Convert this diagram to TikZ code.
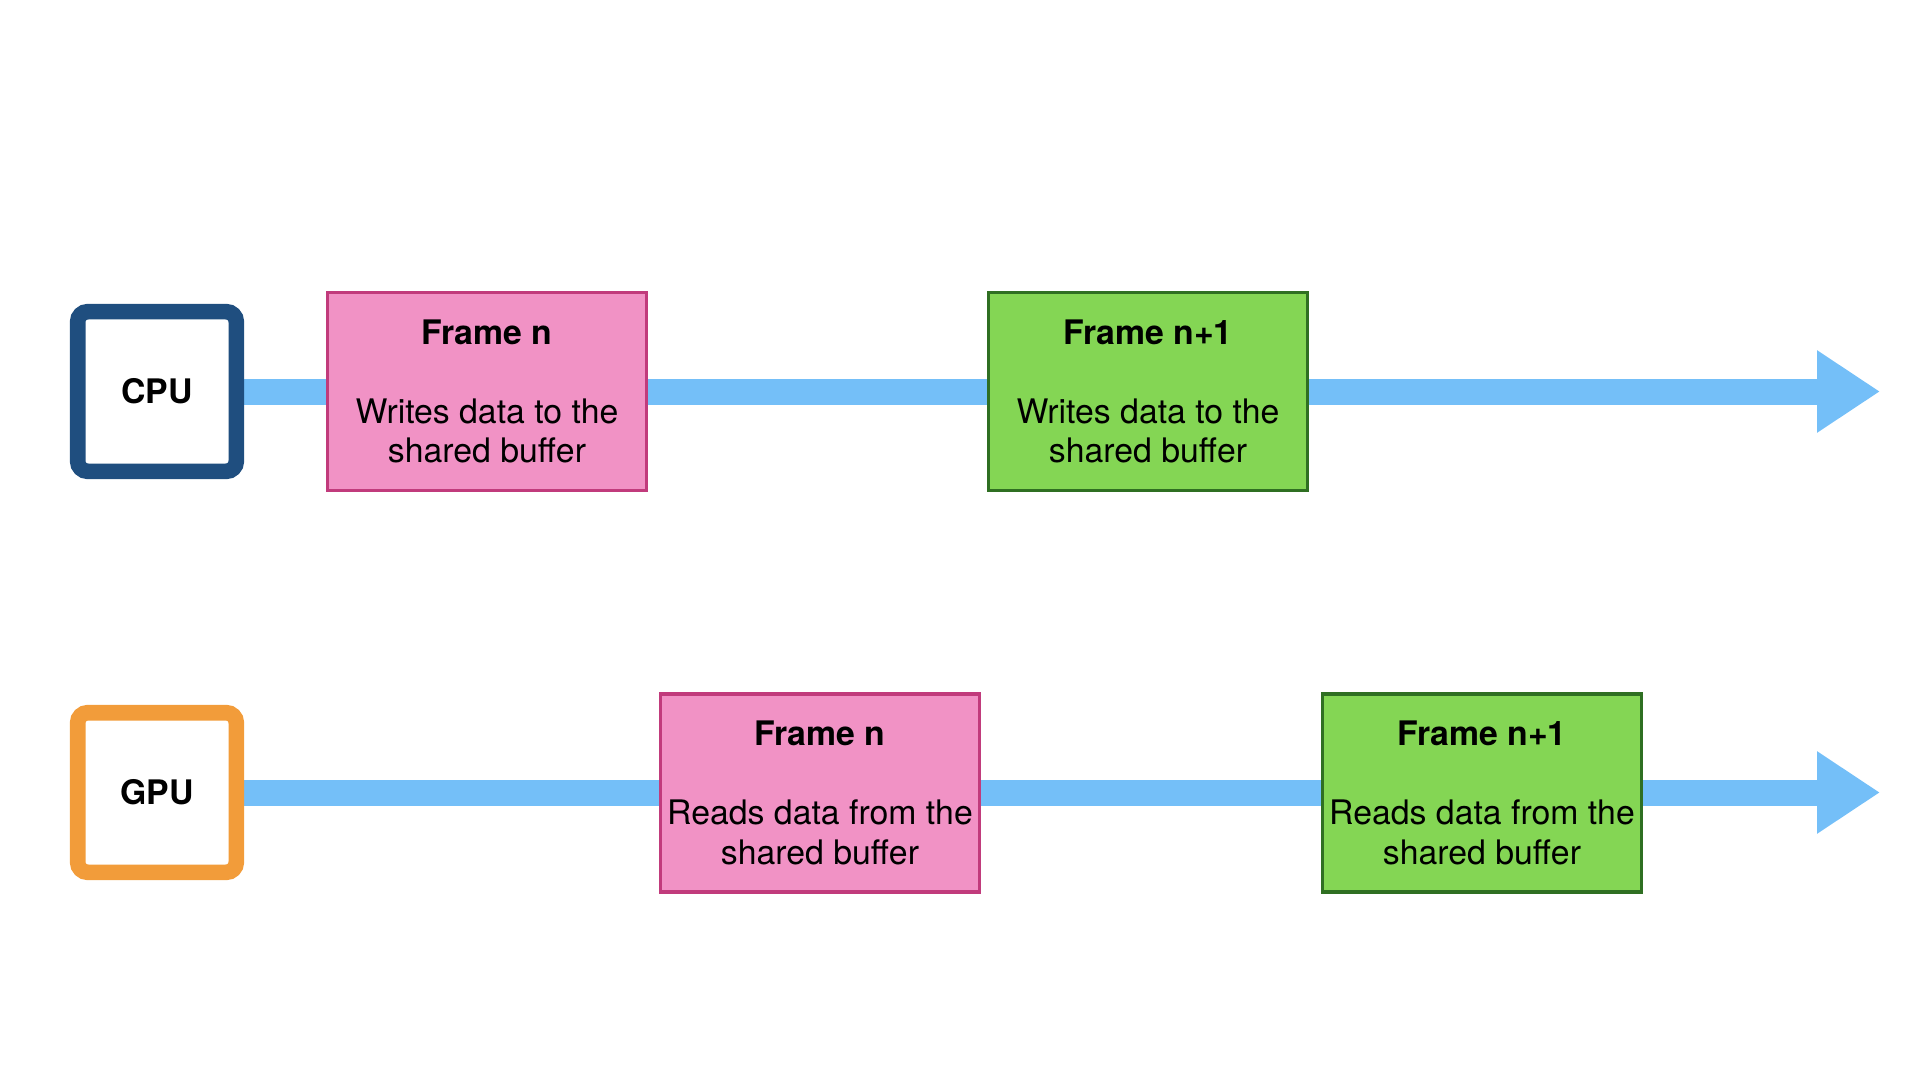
\documentclass[tikz,border=0pt]{standalone}
\usepackage{fontspec}
\setmainfont{TeX Gyre Heros}
\usetikzlibrary{arrows.meta,backgrounds}
\definecolor{cpublue}{HTML}{1F4E7F}
\definecolor{gpuorange}{HTML}{F29C3A}
\definecolor{pinkfill}{HTML}{F192C5}
\definecolor{pinkline}{HTML}{C13B7C}
\definecolor{greenfill}{HTML}{84D654}
\definecolor{greenline}{HTML}{2F6F22}
\definecolor{flowblue}{HTML}{74BFF8}
\begin{document}
\begin{tikzpicture}[x=0.5pt,y=-0.5pt,
  txt/.style={font=\fontsize{16.9}{19.75}\selectfont},
  unitbox/.style={txt, draw, line width=7.8pt, fill=white, rounded corners=5pt,
    minimum width=79.3pt, minimum height=79.8pt, inner sep=0pt, font=\bfseries\fontsize{16.9}{19.75}\selectfont},
  framebox/.style={txt, line width=1.6pt, minimum width=159.5pt, minimum height=99pt,
    inner sep=0pt, align=center},
  pinkbox/.style={framebox, draw=pinkline, fill=pinkfill},
  greenbox/.style={framebox, draw=greenline, fill=greenfill},
  flow/.style={draw=flowblue, line width=13pt, -{Triangle[length=31.5pt,width=39pt]}}
]
\useasboundingbox (0,0) rectangle (1920,1080);
\node[unitbox, draw=cpublue] (cpu) at (157,391.5) {CPU};
\node[unitbox, draw=gpuorange] (gpu) at (157,792.5) {GPU};
\node[pinkbox] (cpun) at (487,391.5) {\textbf{Frame n}\\[19.75pt]Writes data to the\\shared buffer};
\node[greenbox] (cpun1) at (1148,391.5) {\textbf{Frame n+1}\\[19.75pt]Writes data to the\\shared buffer};
\node[pinkbox] (gpun) at (820,793) {\textbf{Frame n}\\[19.75pt]Reads data from the\\shared buffer};
\node[greenbox] (gpun1) at (1482,793) {\textbf{Frame n+1}\\[19.75pt]Reads data from the\\shared buffer};
\coordinate (cpuend) at (1880,391.5);
\coordinate (gpuend) at (1880,792.5);
\begin{scope}[on background layer]
  \draw[flow] (cpu.east) -- (cpuend);
  \draw[flow] (gpu.east) -- (gpuend);
\end{scope}
\end{tikzpicture}
\end{document}
